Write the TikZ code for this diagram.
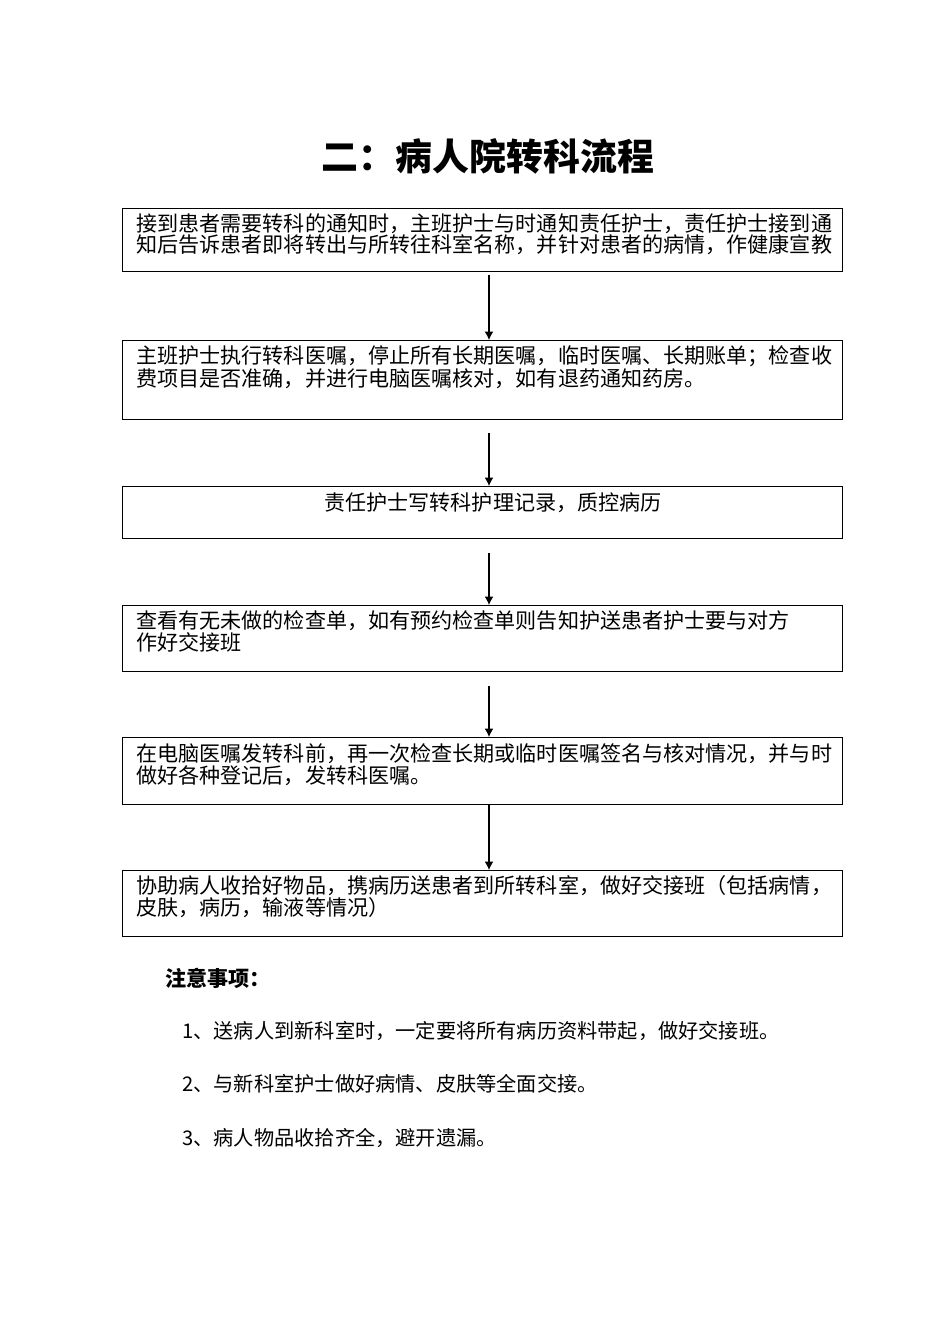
\documentclass[tikz,border=0pt]{standalone}
\usepackage{fontspec}
\setmainfont{Noto Sans CJK SC}
\usepackage{tikz}
\usetikzlibrary{arrows.meta}

\begin{document}
\begin{tikzpicture}[
    x=0.02cm, y=-0.02cm,
    box/.style={draw, line width=0.8pt, anchor=north west, minimum width=14.4cm, inner sep=0pt},
    txt/.style={anchor=base west, align=left, inner sep=0pt, font=\fontsize{12pt}{12pt}\selectfont},
    note/.style={anchor=base west, inner sep=0pt, font=\fontsize{11.5pt}{12pt}\selectfont},
    arr/.style={line width=0.6pt, -{Latex[length=4.8pt, width=5pt]}}
]
\useasboundingbox (0,0) rectangle (950,1317);

% Title
\node[anchor=base, inner sep=0pt, font=\bfseries\fontsize{21pt}{24pt}\selectfont] (title) at (488,171) {二：病人院转科流程};

% Boxes
\node[box, minimum height=1.26cm] (b1) at (122,208) {};
\node[box, minimum height=1.58cm] (b2) at (122,340) {};
\node[box, minimum height=1.04cm] (b3) at (122,486) {};
\node[box, minimum height=1.32cm] (b4) at (122,605) {};
\node[box, minimum height=1.34cm] (b5) at (122,737) {};
\node[box, minimum height=1.32cm] (b6) at (122,870) {};

% Texts (two lines: base = last line)
\node[txt] (t1) at (136,253) {接到患者需要转科的通知时，主班护士与时通知责任护士，责任护士接到通\\知后告诉患者即将转出与所转往科室名称，并针对患者的病情，作健康宣教};
\node[txt] (t2) at (136,386) {主班护士执行转科医嘱，停止所有长期医嘱，临时医嘱、长期账单；检查收\\费项目是否准确，并进行电脑医嘱核对，如有退药通知药房。};
\node[txt, anchor=base] (t3) at (493,510) {责任护士写转科护理记录，质控病历};
\node[txt] (t4) at (136,650) {查看有无未做的检查单，如有预约检查单则告知护送患者护士要与对方\\作好交接班};
\node[txt] (t5) at (136,783) {在电脑医嘱发转科前，再一次检查长期或临时医嘱签名与核对情况，并与时\\做好各种登记后，发转科医嘱。};
\node[txt] (t6) at (136,915) {协助病人收拾好物品，携病历送患者到所转科室，做好交接班（包括病情，\\皮肤，病历，输液等情况）};

% Edges
\coordinate (ax) at (489,0);
\draw[arr, shorten <=1.7pt] (b1.south -| ax) -- (b2.north -| ax);
\draw[arr, shorten <=7.4pt] (b2.south -| ax) -- (b3.north -| ax);
\draw[arr, shorten <=8pt] (b3.south -| ax) -- (b4.north -| ax);
\draw[arr, shorten <=8pt] (b4.south -| ax) -- (b5.north -| ax);
\draw[arr] (b5.south -| ax) -- (b6.north -| ax);

% Notes
\node[note, font=\bfseries\fontsize{12pt}{12pt}\selectfont] (n0) at (165,986) {注意事项：};
\node[note] (n1) at (182,1038) {1、送病人到新科室时，一定要将所有病历资料带起，做好交接班。};
\node[note] (n2) at (182,1091) {2、与新科室护士做好病情、皮肤等全面交接。};
\node[note] (n3) at (182,1145) {3、病人物品收拾齐全，避开遗漏。};

\end{tikzpicture}
\end{document}
